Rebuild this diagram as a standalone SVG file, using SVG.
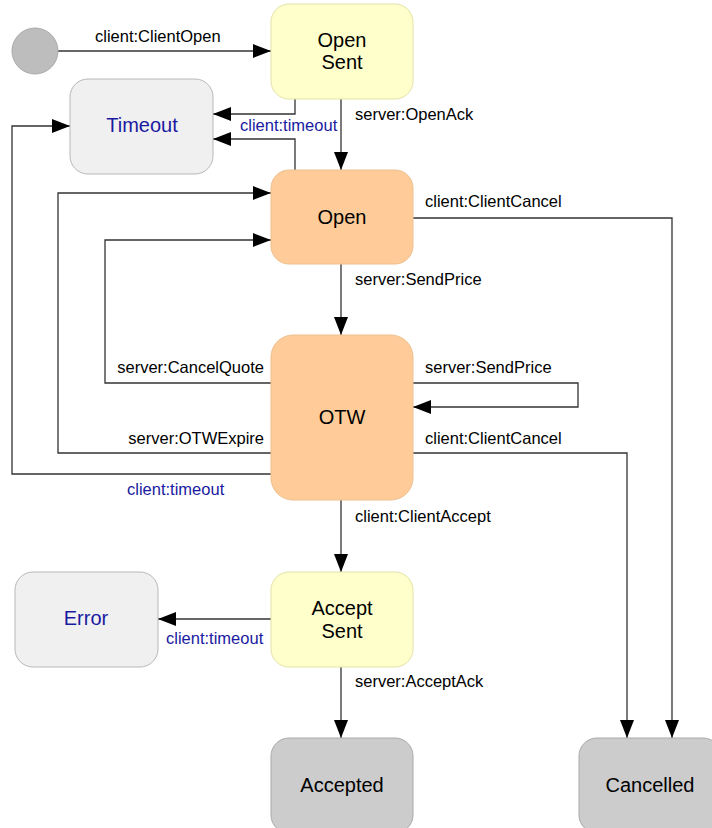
<svg xmlns="http://www.w3.org/2000/svg" width="712" height="828" viewBox="0 0 712 828">
  <style>
    .lbl { font-family: "Liberation Sans", Arial, sans-serif; font-size: 16.5px; fill: #000; }
    .lbl.blue { fill: #1a1aa0; }
    .name { font-family: "Liberation Sans", Arial, sans-serif; font-size: 20px; fill: #000; text-anchor: middle; }
    .name.blue { fill: #1a1aa0; }
    .wire { fill: none; stroke: #333; stroke-width: 1.3; marker-end: url(#arrow); }
    .pending { fill: #ffffcc; stroke: #e2e2a8; stroke-width: 1; }
    .active { fill: #ffcc99; stroke: #ecc090; stroke-width: 1; }
    .fault { fill: #f0f0f0; stroke: #b8b8b8; stroke-width: 1; }
    .final { fill: #cccccc; stroke: #aaaaaa; stroke-width: 1; }
  </style>
  <defs>
    <marker id="arrow" markerUnits="userSpaceOnUse" markerWidth="19" markerHeight="15" refX="18" refY="7" orient="auto">
      <path d="M0,0 L18,7 L0,14 Z" fill="#000"/>
    </marker>
  </defs>
  <rect width="712" height="828" fill="#fff"/>

  <!-- transitions -->
  <g id="connectors">
    <path class="wire" d="M58,51 H271"/>
    <path class="wire" d="M295,99 V114 H213"/>
    <path class="wire" d="M295,170 V139 H213"/>
    <path class="wire" d="M341,99 V170"/>
    <path class="wire" d="M413,218 H672 V738"/>
    <path class="wire" d="M341,264 V335"/>
    <path class="wire" d="M271,383 H105 V240 H271"/>
    <path class="wire" d="M413,383 H578 V407 H413"/>
    <path class="wire" d="M271,453 H58 V193 H271"/>
    <path class="wire" d="M413,453 H627 V738"/>
    <path class="wire" d="M271,474 H12 V126 H70"/>
    <path class="wire" d="M341,500 V572"/>
    <path class="wire" d="M271,619 H158"/>
    <path class="wire" d="M341,667 V738"/>

    <text class="lbl" x="95" y="42">client:ClientOpen</text>
    <text class="lbl blue" x="240" y="131">client:timeout</text>
    <text class="lbl" x="355" y="120">server:OpenAck</text>
    <text class="lbl" x="425" y="207">client:ClientCancel</text>
    <text class="lbl" x="355" y="285">server:SendPrice</text>
    <text class="lbl" x="264" y="373" text-anchor="end">server:CancelQuote</text>
    <text class="lbl" x="425" y="373">server:SendPrice</text>
    <text class="lbl" x="264" y="444" text-anchor="end">server:OTWExpire</text>
    <text class="lbl" x="425" y="444">client:ClientCancel</text>
    <text class="lbl blue" x="127" y="495">client:timeout</text>
    <text class="lbl" x="355" y="522">client:ClientAccept</text>
    <text class="lbl blue" x="166" y="644">client:timeout</text>
    <text class="lbl" x="355" y="687">server:AcceptAck</text>
  </g>

  <!-- states -->
  <g id="start">
    <circle cx="35" cy="51" r="23" fill="#bdbdbd" stroke="#aaaaaa"/>
  </g>
  <g id="open-sent">
    <rect class="pending" x="271" y="4" width="142" height="95" rx="18"/>
    <text class="name" x="342" y="47">Open</text>
    <text class="name" x="342" y="69">Sent</text>
  </g>
  <g id="timeout">
    <rect class="fault" x="70" y="79" width="143" height="95" rx="18"/>
    <text class="name blue" x="142" y="132">Timeout</text>
  </g>
  <g id="open">
    <rect class="active" x="271" y="170" width="142" height="94" rx="18"/>
    <text class="name" x="342" y="224">Open</text>
  </g>
  <g id="otw">
    <rect class="active" x="271" y="335" width="142" height="165" rx="22"/>
    <text class="name" x="342" y="424">OTW</text>
  </g>
  <g id="accept-sent">
    <rect class="pending" x="271" y="572" width="142" height="95" rx="18"/>
    <text class="name" x="342" y="615">Accept</text>
    <text class="name" x="342" y="638">Sent</text>
  </g>
  <g id="error">
    <rect class="fault" x="15" y="572" width="143" height="95" rx="18"/>
    <text class="name blue" x="86" y="625">Error</text>
  </g>
  <g id="accepted">
    <rect class="final" x="271" y="738" width="142" height="95" rx="18"/>
    <text class="name" x="342" y="792">Accepted</text>
  </g>
  <g id="cancelled">
    <rect class="final" x="579" y="738" width="142" height="95" rx="18"/>
    <text class="name" x="650" y="792">Cancelled</text>
  </g>
</svg>
